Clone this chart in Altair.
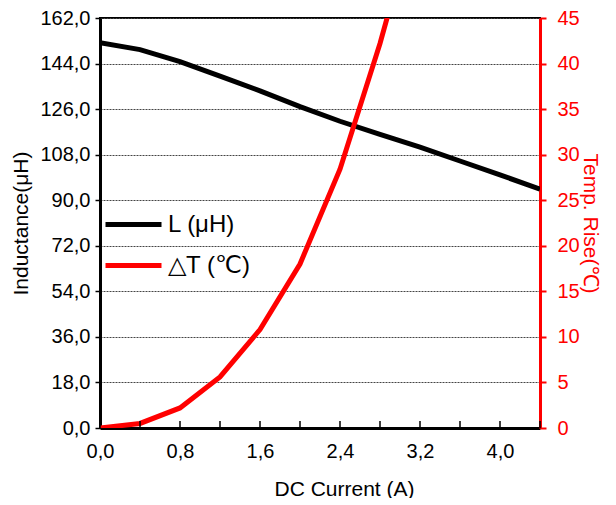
import altair as alt
import pandas as pd

# DC current (A)
x_L = [0.0, 0.4, 0.8, 1.2, 1.6, 2.0, 2.4, 2.8, 3.2, 3.6, 4.0, 4.4]
inductance = [152.2, 149.5, 144.8, 139.0, 133.2, 127.0, 121.2, 116.0, 111.0, 105.5, 100.0, 94.4]
x_T = [0.0, 0.4, 0.8, 1.2, 1.6, 2.0, 2.4, 2.8, 3.2]
temp_rise = [0.0, 0.5, 2.2, 5.6, 10.8, 18.0, 28.4, 42.2, 58.0]
x_ticks = [0.0, 0.4, 0.8, 1.2, 1.6, 2.0, 2.4, 2.8, 3.2, 3.6, 4.0, 4.4]
y_left_ticks = [0, 18, 36, 54, 72, 90, 108, 126, 144, 162]
y_right_ticks = [0, 5, 10, 15, 20, 25, 30, 35, 40, 45]
series_names = ["L (μH)", "△T (℃)"]
series_colors = ["#000000", "#ff0000"]

W, H = 440, 410
FONT = "Liberation Sans"
LBL = 20
TTL = 21

dfL = pd.DataFrame({"x": x_L, "y": inductance, "series": series_names[0]})
dfT = pd.DataFrame({"x": x_T, "y": temp_rise, "series": series_names[1]})
dfTicks = pd.DataFrame({"x": x_ticks})

color = alt.Color(
    "series:N",
    scale=alt.Scale(domain=series_names, range=series_colors),
    legend=alt.Legend(
        title=None, orient="none", legendX=17, legendY=190,
        labelFontSize=24, labelFont=FONT, labelColor="#000000",
        symbolType="M-2,0H2", symbolSize=784, symbolStrokeWidth=5,
        labelOffset=18, rowPadding=12,
    ),
)

xenc = alt.X(
    "x:Q",
    scale=alt.Scale(domain=[0, 4.4], nice=False, zero=False),
    axis=alt.Axis(
        title="DC Current (A)", values=x_ticks, ticks=False,
        labelExpr="(round(datum.value*10) % 8 == 0) ? replace(format(datum.value, '.1f'), '.', ',') : ''",
        grid=False, domainColor="#000000", domainWidth=3,
        labelFontSize=LBL, titleFontSize=TTL, titleFontWeight="normal",
        labelFont=FONT, titleFont=FONT, labelColor="#000000", titleColor="#000000",
        labelPadding=13, titlePadding=17, titleX=244, labelFlush=False, labelOverlap=False,
    ),
)

lineL = alt.Chart(dfL).mark_line(strokeWidth=5, clip=True).encode(
    x=xenc,
    y=alt.Y(
        "y:Q",
        scale=alt.Scale(domain=[0, 162], nice=False),
        axis=alt.Axis(
            title="Inductance(μH)", values=y_left_ticks,
            labelExpr="replace(format(datum.value, '.1f'), '.', ',')",
            grid=True, gridColor="#444444", gridDash=[2, 1], gridWidth=1,
            domainColor="#000000", domainWidth=3, tickColor="#000000", tickSize=5, tickWidth=1.5,
            labelFontSize=LBL, titleFontSize=TTL, titleFontWeight="normal",
            labelFont=FONT, titleFont=FONT, labelColor="#000000", titleColor="#000000",
            labelPadding=5, titlePadding=8,
        ),
    ),
    color=color,
)

lineT = alt.Chart(dfT).mark_line(strokeWidth=5, clip=True).encode(
    x=alt.X("x:Q"),
    y=alt.Y(
        "y:Q",
        scale=alt.Scale(domain=[0, 45], nice=False),
        axis=alt.Axis(
            orient="right", title="Temp. Rise(℃)", values=y_right_ticks, format="d",
            grid=False, domainColor="#ff0000", domainWidth=3,
            tickColor="#ff0000", tickSize=6, tickWidth=2,
            labelFontSize=LBL, titleFontSize=TTL, titleFontWeight="normal",
            labelFont=FONT, titleFont=FONT, labelColor="#ff0000", titleColor="#ff0000",
            labelPadding=11, titlePadding=0,
        ),
    ),
    color=color,
)

ticks = alt.Chart(dfTicks).mark_rule(color="#000000", strokeWidth=1.5).encode(
    x=alt.X("x:Q"),
    y=alt.value(H - 7),
    y2=alt.value(H),
)

chart = (
    alt.layer(lineL, lineT, ticks)
    .resolve_scale(y="independent")
    .properties(
        width=W, height=H,
        autosize=alt.AutoSizeParams(type="none"),
        padding={"left": 92, "top": 10, "right": 68, "bottom": 70},
        background="#ffffff",
    )
    .configure_view(stroke="#000000", strokeWidth=2)
)

chart.save("out.html", embed_options={"renderer": "svg", "actions": False})
